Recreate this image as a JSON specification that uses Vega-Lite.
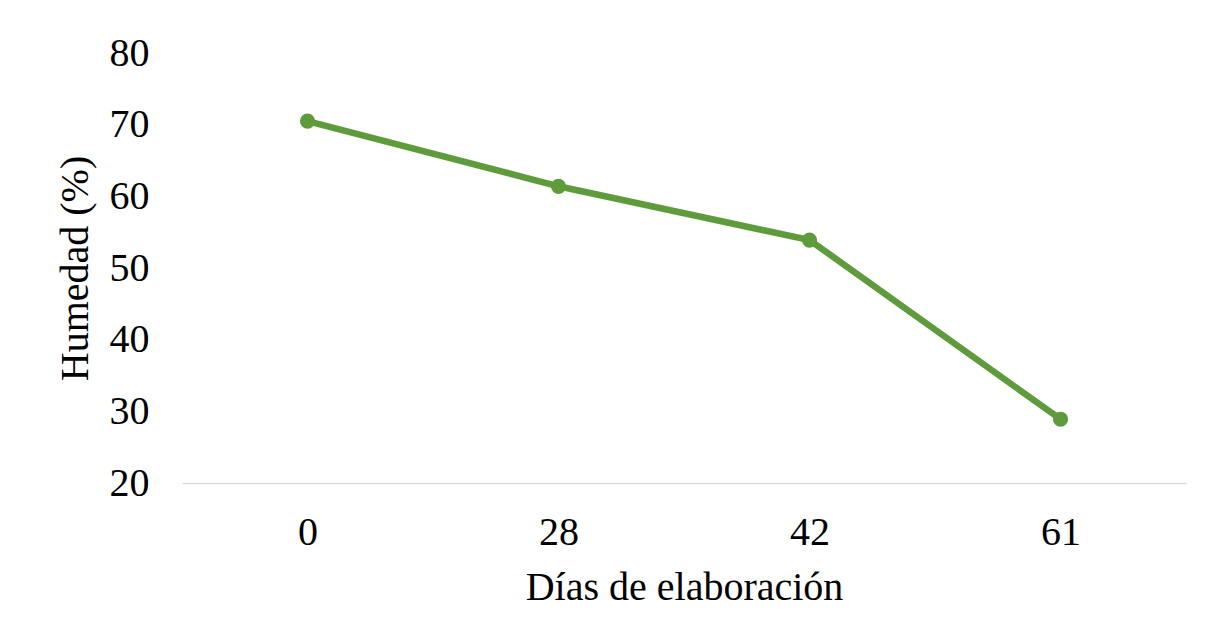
{
  "$schema": "https://vega.github.io/schema/vega-lite/v6.json",
  "autosize": "none",
  "width": 1004,
  "height": 430,
  "padding": {"left": 182, "top": 53, "right": 23, "bottom": 161},
  "background": "white",
  "config": {
    "view": {"stroke": null},
    "font": "Liberation Serif",
    "axis": {"labelFont": "Liberation Serif", "titleFont": "Liberation Serif", "labelColor": "#000000", "titleColor": "#000000", "titleFontWeight": "normal", "labelFontSize": 40, "titleFontSize": 40}
  },
  "data": {
    "values": [
      {"dias": "0", "humedad": 70.5},
      {"dias": "28", "humedad": 61.4},
      {"dias": "42", "humedad": 53.9},
      {"dias": "61", "humedad": 28.9}
    ]
  },
  "encoding": {
    "x": {
      "field": "dias", "type": "ordinal", "sort": null,
      "scale": {"type": "point", "padding": 0.5},
      "axis": {"title": "Días de elaboración", "labelAngle": 0, "ticks": false, "labelPadding": 29, "domainColor": "#d9d9d9", "domainWidth": 1.5, "grid": false, "titleBaseline": "alphabetic", "titleY": 116}
    },
    "y": {
      "field": "humedad", "type": "quantitative",
      "scale": {"domain": [20, 80], "nice": false, "zero": false},
      "axis": {"title": "Humedad (%)", "values": [20, 30, 40, 50, 60, 70, 80], "ticks": false, "domain": false, "grid": false, "labelPadding": 33, "titleBaseline": "alphabetic", "titleX": -95}
    }
  },
  "layer": [
    {"mark": {"type": "line", "color": "#5e9b3b", "strokeWidth": 6.5}},
    {"mark": {"type": "point", "filled": true, "color": "#5e9b3b", "size": 230, "opacity": 1}}
  ]
}
